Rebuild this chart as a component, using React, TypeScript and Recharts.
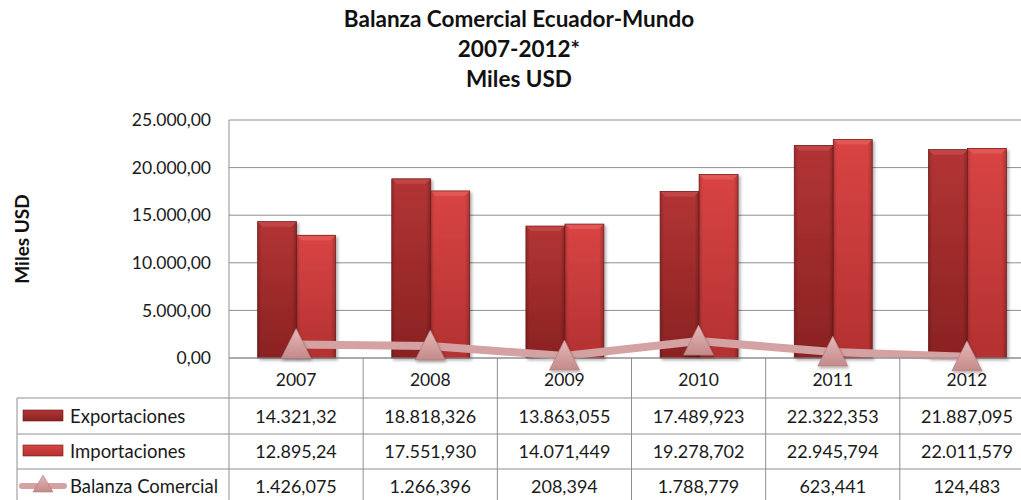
import React from 'react';
import { ComposedChart, Bar, Line, XAxis, YAxis, CartesianGrid } from 'recharts';

const years = ['2007', '2008', '2009', '2010', '2011', '2012'];
const exportaciones = [14321.32, 18818.326, 13863.055, 17489.923, 22322.353, 21887.095];
const importaciones = [12895.24, 17551.93, 14071.449, 19278.702, 22945.794, 22011.579];
const balanza = [1426.075, 1266.396, 208.394, 1788.779, 623.441, 124.483];
const exportLabels = ['14.321,32', '18.818,326', '13.863,055', '17.489,923', '22.322,353', '21.887,095'];
const importLabels = ['12.895,24', '17.551,930', '14.071,449', '19.278,702', '22.945,794', '22.011,579'];
const balanzaLabels = ['1.426,075', '1.266,396', '208,394', '1.788,779', '623,441', '124,483'];
const seriesNames = ['Exportaciones', 'Importaciones', 'Balanza Comercial'];
const yTicks = [0, 5000, 10000, 15000, 20000, 25000];
const titleLines = ['Balanza Comercial Ecuador-Mundo', '2007-2012*', 'Miles USD'];
const yAxisTitle = 'Miles USD';

const data = years.map((year, i) => ({
  year,
  exp: exportaciones[i],
  imp: importaciones[i],
  bal: balanza[i],
}));

const FONT = "Lato, 'Open Sans', sans-serif";
const TEXT = '#1a1a1a';
const GRID = '#8f8f8f';
const LINE_COLOR = '#d4a2a2';
const CHART_W = 1034;
const CHART_H = 500;
const Y_AXIS_W = 229;
const X_AXIS_H = 142;
const CELL_W = (CHART_W - Y_AXIS_W) / years.length;

const fmtY = (v: number) => {
  const s = Math.round(v).toString().replace(/\B(?=(\d{3})+(?!\d))/g, '.');
  return s + ',00';
};

function BarShape(kind: 'exp' | 'imp') {
  return (props: any) => {
    const { x, y, width, height } = props;
    if (!height || height <= 0) return <g />;
    const b = 5;
    const top = kind === 'exp' ? '#c24444' : '#e25656';
    return (
      <g filter="url(#barShadow)">
        <rect x={x} y={y} width={width} height={height} fill={`url(#${kind}Body)`} />
        <rect x={x} y={y} width={width} height={height} fill="url(#edgeShade)" />
        <polygon
          points={`${x},${y} ${x + width},${y} ${x + width - b},${y + b} ${x + b},${y + b}`}
          fill={top}
        />
        <rect x={x} y={y} width={width} height={height} fill="none" stroke="#6a1818" strokeWidth={0.7} />
      </g>
    );
  };
}

function Triangle(props: any) {
  const { cx, cy, index } = props;
  if (cx == null || cy == null) return <g key={`t-${index}`} />;
  return (
    <g key={`t-${index}`} filter="url(#triShadow)">
      <polygon
        points={`${cx},${cy - 16} ${cx - 15},${cy + 14} ${cx + 15},${cy + 14}`}
        fill="url(#triFill)"
        stroke="#b07878"
        strokeWidth={0.6}
      />
    </g>
  );
}

function LegendColumn({ right, y }: { right: number; y: number }) {
  const left = 17;
  const rows = [y + 40, y + 76, y + 111];
  const centers = [y + 58, y + 93, y + 128];
  return (
    <g>
      <line x1={left} y1={rows[0]} x2={left} y2={y + 170} stroke={GRID} />
      {rows.map((ry, k) => (
        <line key={k} x1={left} y1={ry} x2={right} y2={ry} stroke={GRID} />
      ))}
      <rect x={23} y={centers[0] - 6} width={40} height={11} fill="url(#expBody)" stroke="#6a1818" strokeWidth={0.6} />
      <rect x={23} y={centers[1] - 6} width={40} height={11} fill="url(#impBody)" stroke="#6a1818" strokeWidth={0.6} />
      <line x1={22} y1={centers[2]} x2={64} y2={centers[2]} stroke={LINE_COLOR} strokeWidth={6} strokeLinecap="round" />
      <polygon
        points={`43,${centers[2] - 11} 33,${centers[2] + 6} 53,${centers[2] + 6}`}
        fill="url(#triFill)"
        stroke="#b07878"
        strokeWidth={0.6}
      />
      {seriesNames.map((n, k) => (
        <text
          key={n}
          x={70}
          y={centers[k]}
          dominantBaseline="central"
          fontFamily={FONT}
          fontSize={18.5}
          fill={TEXT}
        >
          {n}
        </text>
      ))}
    </g>
  );
}

function TableTick(props: any) {
  const { x, y, payload } = props;
  const i: number = payload.index ?? props.index ?? 0;
  const half = CELL_W / 2;
  const l = x - half;
  const r = x + half;
  const rows = [y + 40, y + 76, y + 111];
  const bottom = y + 170;
  const vals = [payload.value, exportLabels[i], importLabels[i], balanzaLabels[i]];
  const centers = [y + 21, y + 58, y + 93, y + 128];
  return (
    <g>
      <line x1={l} y1={y} x2={l} y2={bottom} stroke={GRID} />
      {i === years.length - 1 && <line x1={r} y1={y} x2={r} y2={bottom} stroke={GRID} />}
      {rows.map((ry, k) => (
        <line key={k} x1={l} y1={ry} x2={r} y2={ry} stroke={GRID} />
      ))}
      {vals.map((v, k) => (
        <text
          key={k}
          x={x}
          y={centers[k]}
          textAnchor="middle"
          dominantBaseline="central"
          fontFamily={FONT}
          fontSize={k === 0 ? 17.5 : 18}
          fill={TEXT}
        >
          {v}
        </text>
      ))}
      {i === 0 && <LegendColumn right={l} y={y} />}
    </g>
  );
}

function YLabel(props: any) {
  const vb = props.viewBox || { x: 0, y: 120, width: 229, height: 238 };
  const cx = 21;
  const cy = vb.y + vb.height / 2;
  return (
    <text
      x={cx}
      y={cy}
      transform={`rotate(-90 ${cx} ${cy})`}
      textAnchor="middle"
      dominantBaseline="central"
      fontFamily={FONT}
      fontWeight="bold"
      fontSize={19}
      fill="#111"
    >
      {yAxisTitle}
    </text>
  );
}

export default function App() {
  return (
    <div
      style={{
        position: 'absolute',
        left: 0,
        top: 0,
        width: 1021,
        height: 500,
        overflow: 'hidden',
        background: '#fff',
      }}
    >
      <svg width={0} height={0} style={{ position: 'absolute' }}>
        <defs>
          <linearGradient id="expBody" x1="0" y1="0" x2="0" y2="1">
            <stop offset="0%" stopColor="#b33434" />
            <stop offset="100%" stopColor="#8a2222" />
          </linearGradient>
          <linearGradient id="impBody" x1="0" y1="0" x2="0" y2="1">
            <stop offset="0%" stopColor="#d94444" />
            <stop offset="100%" stopColor="#b43131" />
          </linearGradient>
          <linearGradient id="edgeShade" x1="0" y1="0" x2="1" y2="0">
            <stop offset="0%" stopColor="#000" stopOpacity={0.18} />
            <stop offset="10%" stopColor="#000" stopOpacity={0} />
            <stop offset="88%" stopColor="#000" stopOpacity={0} />
            <stop offset="100%" stopColor="#000" stopOpacity={0.22} />
          </linearGradient>
          <linearGradient id="triFill" x1="0" y1="0" x2="0" y2="1">
            <stop offset="0%" stopColor="#e6b8b8" />
            <stop offset="100%" stopColor="#c48a8a" />
          </linearGradient>
          <filter id="barShadow" x="-20%" y="-5%" width="150%" height="115%">
            <feDropShadow dx="2" dy="2" stdDeviation="1.5" floodColor="#000" floodOpacity="0.3" />
          </filter>
          <filter id="triShadow" x="-30%" y="-30%" width="160%" height="160%">
            <feDropShadow dx="1" dy="2" stdDeviation="1.5" floodColor="#000" floodOpacity="0.3" />
          </filter>
        </defs>
      </svg>
      <svg width={1021} height={100} style={{ position: 'absolute', left: 0, top: 0 }}>
        {titleLines.map((t, k) => (
          <text
            key={t}
            x={519}
            y={27 + k * 30}
            textAnchor="middle"
            fontFamily={FONT}
            fontWeight="bold"
            fontSize={22.5}
            fill="#111"
          >
            {t}
          </text>
        ))}
      </svg>
      <div style={{ position: 'absolute', left: 0, top: 0 }}>
        <ComposedChart
          width={CHART_W}
          height={CHART_H}
          data={data}
          margin={{ top: 120, right: 0, left: 0, bottom: 0 }}
          barGap={0}
          barCategoryGap="21.3%"
        >
          <CartesianGrid vertical={false} stroke={GRID} strokeWidth={1} />
          <XAxis
            dataKey="year"
            height={X_AXIS_H}
            axisLine={{ stroke: GRID }}
            tickLine={false}
            tickSize={0}
            tickMargin={0}
            interval={0}
            tick={<TableTick />}
          />
          <YAxis
            width={Y_AXIS_W}
            domain={[0, 25000]}
            ticks={yTicks}
            tickFormatter={fmtY}
            axisLine={{ stroke: GRID }}
            tickLine={false}
            tickSize={0}
            tickMargin={18}
            tick={{ fontFamily: FONT, fontSize: 17.5, fill: TEXT }}
            label={<YLabel />}
          />
          <Bar dataKey="exp" name={seriesNames[0]} shape={BarShape('exp')} isAnimationActive={false} />
          <Bar dataKey="imp" name={seriesNames[1]} shape={BarShape('imp')} isAnimationActive={false} />
          <Line
            dataKey="bal"
            name={seriesNames[2]}
            stroke={LINE_COLOR}
            strokeWidth={8}
            dot={(p: any) => <Triangle key={`d-${p.index}`} {...p} />}
            activeDot={false}
            isAnimationActive={false}
          />
        </ComposedChart>
      </div>
    </div>
  );
}
